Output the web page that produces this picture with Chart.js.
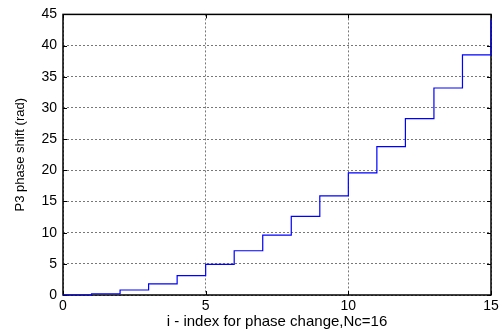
<!DOCTYPE html>
<html>
<head>
<meta charset="utf-8">
<script src="https://cdn.jsdelivr.net/npm/chart.js@4"></script>
<style>
  html, body { margin: 0; padding: 0; background: #fff; }
  #wrap { width: 503px; height: 331px; }
</style>
</head>
<body>
<div id="wrap"><canvas id="chart" width="503" height="331"></canvas></div>
<script>
// values
const indices = [0, 1, 2, 3, 4, 5, 6, 7, 8, 9, 10, 11, 12, 13, 14, 15];
const phaseShift = [0, 0.2, 0.8, 1.8, 3.1, 4.9, 7.1, 9.6, 12.6, 15.9, 19.6, 23.8, 28.3, 33.2, 38.5, 44.2];
const xTicks = [0, 5, 10, 15];
const yTicks = [0, 5, 10, 15, 20, 25, 30, 35, 40, 45];

const points = indices.map((x, i) => ({ x: x, y: phaseShift[i] }));

// MATLAB-like box with inward tick marks, drawn under the line
const boxPlugin = {
  id: 'box',
  beforeDatasetsDraw(chart) {
    const { ctx, chartArea: a, scales } = chart;
    ctx.save();
    ctx.strokeStyle = '#000';
    ctx.lineWidth = 1;
    ctx.beginPath();
    xTicks.forEach(v => {
      const px = Math.round(scales.x.getPixelForValue(v)) + 0.5;
      ctx.moveTo(px, a.bottom); ctx.lineTo(px, a.bottom - 4);
      ctx.moveTo(px, a.top); ctx.lineTo(px, a.top + 4);
    });
    yTicks.forEach(v => {
      const py = Math.round(scales.y.getPixelForValue(v)) + 0.5;
      ctx.moveTo(a.left, py); ctx.lineTo(a.left + 4, py);
      ctx.moveTo(a.right, py); ctx.lineTo(a.right - 4, py);
    });
    ctx.stroke();
    ctx.lineWidth = 1.5;
    ctx.strokeRect(a.left, a.top, a.right - a.left, a.bottom - a.top);
    ctx.restore();
  }
};

new Chart(document.getElementById('chart'), {
  type: 'line',
  data: {
    datasets: [{
      data: points,
      borderColor: '#0000ff',
      borderWidth: 1.2,
      pointRadius: 0,
      stepped: true,
      fill: false
    }]
  },
  options: {
    responsive: false,
    animation: false,
    clip: false,
    layout: { padding: { top: 13, right: 12, left: 0, bottom: 0 } },
    plugins: { legend: { display: false }, tooltip: { enabled: false } },
    scales: {
      x: {
        type: 'linear',
        min: 0,
        max: 15,
        afterFit: s => { s.height = 36; },
        afterBuildTicks: s => { s.ticks = xTicks.map(v => ({ value: v })); },
        grid: { color: '#777', drawTicks: false, lineWidth: 1 },
        border: { display: false, dash: [2, 2] },
        ticks: { color: '#000', padding: 3, font: { family: 'Liberation Sans, Arial', size: 14 } },
        title: {
          display: true,
          text: 'i - index for phase change,Nc=16',
          color: '#000',
          padding: { top: 0, bottom: 0 },
          font: { family: 'Liberation Sans, Arial', size: 15 }
        }
      },
      y: {
        type: 'linear',
        min: 0,
        max: 45,
        afterFit: s => { s.width = 63; },
        afterBuildTicks: s => { s.ticks = yTicks.map(v => ({ value: v })); },
        grid: { color: '#777', drawTicks: false, lineWidth: 1 },
        border: { display: false, dash: [2, 2] },
        ticks: { color: '#000', padding: 6, font: { family: 'Liberation Sans, Arial', size: 14 } },
        title: {
          display: true,
          text: 'P3 phase shift (rad)',
          color: '#000',
          padding: { top: 13, bottom: 0 },
          font: { family: 'Liberation Sans, Arial', size: 13 }
        }
      }
    }
  },
  plugins: [boxPlugin]
});
</script>
</body>
</html>
